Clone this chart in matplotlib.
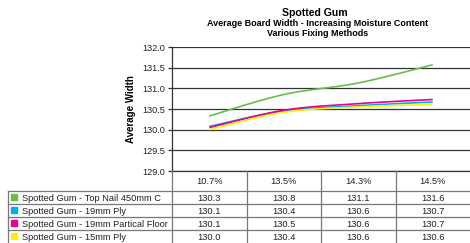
import numpy as np
import matplotlib.pyplot as plt
from matplotlib.lines import Line2D
from matplotlib.patches import Rectangle

plt.rcParams['font.family'] = ['Liberation Sans', 'DejaVu Sans']

categories = ['10.7%', '13.5%', '14.3%', '14.5%']
series_names = ['Spotted Gum - Top Nail 450mm C',
                'Spotted Gum - 19mm Ply',
                'Spotted Gum - 19mm Partical Floor',
                'Spotted Gum - 15mm Ply']
colors = ['#6cbd45', '#00aeef', '#ec008c', '#fff200']

# values as plotted
top_nail = [130.33, 130.85, 131.13, 131.57]
ply_19 = [130.08, 130.45, 130.58, 130.67]
partical_19 = [130.05, 130.47, 130.63, 130.73]
ply_15 = [130.00, 130.42, 130.55, 130.61]
series = [top_nail, ply_19, partical_19, ply_15]

# values as printed in the data table
table_vals = [['130.3', '130.8', '131.1', '131.6'],
              ['130.1', '130.4', '130.6', '130.7'],
              ['130.1', '130.5', '130.6', '130.7'],
              ['130.0', '130.4', '130.6', '130.6']]

y_ticks = [129.0, 129.5, 130.0, 130.5, 131.0, 131.5, 132.0]


def smooth(x, y, n=25):
    # bezier smoothing like spreadsheet "smoothed line"
    x = np.asarray(x, float)
    y = np.asarray(y, float)
    px = np.concatenate([[x[0]], x, [x[-1]]])
    py = np.concatenate([[y[0]], y, [y[-1]]])
    xs, ys = [], []
    t = np.linspace(0, 1, n)
    for i in range(len(x) - 1):
        p0 = np.array([px[i + 1], py[i + 1]])
        p3 = np.array([px[i + 2], py[i + 2]])
        c1 = p0 + (np.array([px[i + 2], py[i + 2]]) - np.array([px[i], py[i]])) / 6
        c2 = p3 - (np.array([px[i + 3], py[i + 3]]) - np.array([px[i + 1], py[i + 1]])) / 6
        pts = (((1 - t) ** 3)[:, None] * p0 + (3 * (1 - t) ** 2 * t)[:, None] * c1
               + (3 * (1 - t) * t ** 2)[:, None] * c2 + (t ** 3)[:, None] * p3)
        xs.append(pts[:, 0])
        ys.append(pts[:, 1])
    return np.concatenate(xs), np.concatenate(ys)


W, H = 470, 243
fig = plt.figure(figsize=(W / 100, H / 100), dpi=100)

left, right, top, bottom = 172, 470, 47, 171
ax = fig.add_axes([left / W, 1 - bottom / H, (right - left) / W, (bottom - top) / H])

x = np.arange(len(categories))
for vals, c in zip(series, colors):
    sx, sy = smooth(x, vals)
    ax.plot(sx, sy, color=c, lw=1.2, solid_capstyle='butt')

ax.set_xlim(-0.5, len(categories) - 0.5)
ax.set_ylim(129.0, 132.0)
ax.set_yticks(y_ticks)
ax.set_yticklabels(['%.1f' % v for v in y_ticks], fontsize=6.6, color='#222222')
ax.set_xticks([])
ax.grid(axis='y', color='#333333', lw=0.9)
ax.set_axisbelow(True)
for s in ['top', 'right', 'bottom']:
    ax.spines[s].set_visible(False)
ax.spines['left'].set_color('#333333')
ax.spines['left'].set_linewidth(0.9)
ax.tick_params(axis='y', length=3, width=0.9, color='#333333', pad=2)
ax.set_ylabel('Average Width', fontsize=7, fontweight='bold', labelpad=4.5)

cx = 318 / W
fig.text(315 / W, 1 - 16.3 / H, 'Spotted Gum', ha='center', va='baseline',
         fontsize=7.6, fontweight='bold')
fig.text(cx, 1 - 26.5 / H, 'Average Board Width - Increasing Moisture Content',
         ha='center', va='baseline', fontsize=6.5, fontweight='bold')
fig.text(cx, 1 - 35.5 / H, 'Various Fixing Methods', ha='center', va='baseline',
         fontsize=6.5, fontweight='bold')

# data table drawn in pixel coordinates
tab = fig.add_axes([0, 0, 1, 1])
tab.set_xlim(0, W)
tab.set_ylim(H, 0)
tab.axis('off')

grey = '#777777'
col_w = (right - left) / len(categories)
col_edges = [left + i * col_w for i in range(len(categories) + 1)]
row_edges = [171, 191, 204, 217, 230, 243]

tab.add_line(Line2D([left, right], [row_edges[0]] * 2, color='#333333', lw=0.9))
for yy in row_edges[1:-1]:
    tab.add_line(Line2D([8, right], [yy, yy], color=grey, lw=0.9))
for xx in col_edges[:-1]:
    tab.add_line(Line2D([xx, xx], [row_edges[0], H], color=grey, lw=0.9))
tab.add_line(Line2D([8, 8], [row_edges[1], H], color=grey, lw=0.9))

for j, cat in enumerate(categories):
    tab.text(left + (j + 0.5) * col_w, (row_edges[0] + row_edges[1]) / 2 + 0.5, cat,
             ha='center', va='center', fontsize=6.7, color='#222222')

for i, (name, c) in enumerate(zip(series_names, colors)):
    yc = (row_edges[i + 1] + row_edges[i + 2]) / 2
    tab.add_patch(Rectangle((11, yc - 3.2), 6, 6, color=c))
    tab.text(22.5, yc + 0.5, name, ha='left', va='center', fontsize=6.7, color='#222222')
    for j in range(len(categories)):
        tab.text(left + (j + 0.5) * col_w, yc + 0.5, table_vals[i][j],
                 ha='center', va='center', fontsize=6.7, color='#222222')

fig.savefig('out.png', dpi=100)
